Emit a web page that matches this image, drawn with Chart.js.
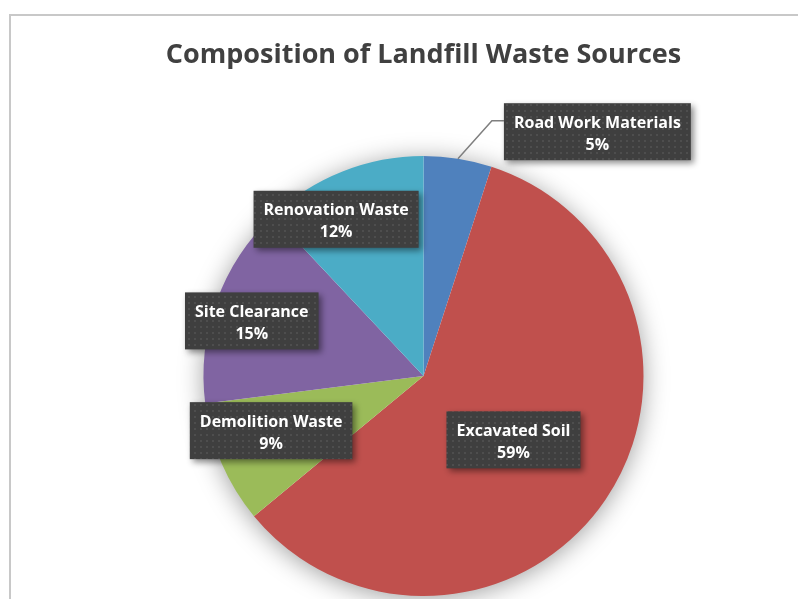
<!DOCTYPE html>
<html>
<head>
<meta charset="utf-8">
<script src="https://cdn.jsdelivr.net/npm/chart.js@4.4.0/dist/chart.umd.min.js"></script>
<style>
  html, body { margin: 0; overflow: hidden; background: #fff; }
  #frame { position: absolute; left: 9px; top: 14px; width: 900px; height: 700px; border: 2px solid #c8c8c8; }
  #wrap { position: absolute; left: 0; top: 0; width: 798px; height: 599px; }
</style>
</head>
<body>
<div id="frame"></div>
<div id="wrap"><canvas id="chart" width="798" height="599"></canvas></div>
<script>
const categories = ['Road Work Materials', 'Excavated Soil', 'Demolition Waste', 'Site Clearance', 'Renovation Waste'];
const shares = [5, 59, 9, 15, 12];
const sliceColors = ['#4f81bd', '#c0504d', '#9bbb59', '#8064a2', '#4bacc6'];

// where each data label sits, relative to its slice
const labelPlace = [
  { outside: true, dx: 34, dy: -38 },
  { r: 0.5, dx: -1, dy: 2 },
  { r: 0.74, dx: -3, dy: -10 },
  { r: 0.82, dx: -2, dy: 6 },
  { r: 0.82, dx: -21, dy: 11 },
];

const FONT = '"Open Sans", Lato, sans-serif';
const LABEL_FONT = 'bold 16px ' + FONT;

function makeDots() {
  const c = document.createElement('canvas');
  c.width = 6; c.height = 6;
  const g = c.getContext('2d');
  g.fillStyle = '#3f3f3f';
  g.fillRect(0, 0, 6, 6);
  g.fillStyle = '#4e4e4e';
  g.fillRect(2, 2, 2, 2);
  return g.createPattern(c, 'repeat');
}

const pieShadow = {
  id: 'pieShadow',
  beforeDatasetsDraw(chart) {
    const arc = chart.getDatasetMeta(0).data[0];
    if (!arc) return;
    const { x, y, outerRadius } = arc.getProps(['x', 'y', 'outerRadius'], true);
    const ctx = chart.ctx;
    ctx.save();
    ctx.shadowColor = 'rgba(0,0,0,0.4)';
    ctx.shadowBlur = 26;
    ctx.shadowOffsetY = 3;
    ctx.fillStyle = '#fff';
    ctx.beginPath();
    ctx.arc(x, y, outerRadius - 1, 0, Math.PI * 2);
    ctx.fill();
    ctx.restore();
  },
};

const labelBoxes = {
  id: 'labelBoxes',
  afterDatasetsDraw(chart) {
    const ctx = chart.ctx;
    const dots = makeDots();
    const total = shares.reduce((a, b) => a + b, 0);
    ctx.save();
    ctx.font = LABEL_FONT;
    chart.getDatasetMeta(0).data.forEach((arc, i) => {
      const { x, y, startAngle, endAngle, outerRadius } =
        arc.getProps(['x', 'y', 'startAngle', 'endAngle', 'outerRadius'], true);
      const mid = (startAngle + endAngle) / 2;
      const place = labelPlace[i];
      const lines = [categories[i], Math.round((shares[i] / total) * 100) + '%'];
      const w = Math.max(...lines.map((t) => ctx.measureText(t).width)) + 20;
      const h = 57;
      let cx, cy;
      if (place.outside) {
        const ex = x + Math.cos(mid) * outerRadius;
        const ey = y + Math.sin(mid) * outerRadius;
        const kx = ex + place.dx, ky = ey + place.dy;
        ctx.strokeStyle = '#7f7f7f';
        ctx.lineWidth = 1.5;
        ctx.beginPath();
        ctx.moveTo(ex, ey);
        ctx.lineTo(kx, ky);
        ctx.lineTo(kx + 12, ky);
        ctx.stroke();
        cx = kx + 12 + w / 2;
        cy = ky + 11;
      } else {
        cx = x + Math.cos(mid) * outerRadius * place.r + place.dx;
        cy = y + Math.sin(mid) * outerRadius * place.r + place.dy;
      }
      ctx.save();
      ctx.shadowColor = 'rgba(0,0,0,0.45)';
      ctx.shadowBlur = 6;
      ctx.shadowOffsetX = 3;
      ctx.shadowOffsetY = 3;
      ctx.fillStyle = dots;
      ctx.fillRect(cx - w / 2, cy - h / 2, w, h);
      ctx.restore();
      ctx.fillStyle = '#fff';
      ctx.textAlign = 'center';
      ctx.textBaseline = 'alphabetic';
      ctx.fillText(lines[0], cx, cy - 4);
      ctx.fillText(lines[1], cx, cy + 18);
    });
    ctx.restore();
  },
};

new Chart(document.getElementById('chart'), {
  type: 'pie',
  data: {
    labels: categories,
    datasets: [{
      data: shares,
      backgroundColor: sliceColors,
      borderWidth: 0,
    }],
  },
  options: {
    responsive: false,
    animation: false,
    layout: { padding: { top: 39, left: 50, right: 1, bottom: 3 } },
    plugins: {
      legend: { display: false },
      tooltip: { enabled: false },
      title: {
        display: true,
        text: 'Composition of Landfill Waste Sources',
        color: '#404040',
        font: { family: FONT, size: 27, weight: 'bold', lineHeight: 1.2 },
        padding: { top: 0, bottom: 84.6 },
      },
    },
  },
  plugins: [pieShadow, labelBoxes],
});
</script>
</body>
</html>
